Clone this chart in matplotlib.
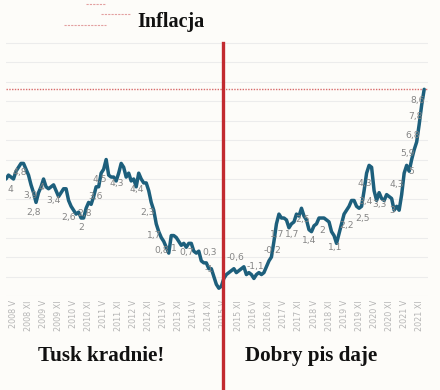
import numpy as np
import matplotlib
matplotlib.use("Agg")
import matplotlib.pyplot as plt
from matplotlib.lines import Line2D

# =====================================================
# Data: CPI y/y (%), monthly, Jan 2008 - Dec 2021
# =====================================================
cpi = [
    4.0, 4.2, 4.1, 4.0, 4.4, 4.6, 4.8, 4.8, 4.5, 4.2, 3.7, 3.3,   # 2008
    2.8, 3.3, 3.6, 4.0, 3.6, 3.5, 3.6, 3.7, 3.4, 3.1, 3.3, 3.5,   # 2009
    3.5, 2.9, 2.6, 2.4, 2.2, 2.3, 2.0, 2.0, 2.5, 2.8, 2.7, 3.1,   # 2010
    3.6, 3.6, 4.3, 4.5, 5.0, 4.2, 4.1, 4.1, 3.9, 4.3, 4.8, 4.6,   # 2011
    4.1, 4.3, 3.9, 4.0, 3.6, 4.3, 4.0, 3.8, 3.8, 3.4, 2.8, 2.4,   # 2012
    1.7, 1.3, 1.0, 0.8, 0.5, 0.2, 1.1, 1.1, 1.0, 0.8, 0.6, 0.7,   # 2013
    0.5, 0.7, 0.7, 0.3, 0.2, 0.3, -0.2, -0.3, -0.3, -0.6, -0.6, -1.0,  # 2014
    -1.4, -1.6, -1.5, -1.1, -0.9, -0.8, -0.7, -0.6, -0.8, -0.7, -0.6, -0.5,  # 2015
    -0.9, -0.8, -0.9, -1.1, -0.9, -0.8, -0.9, -0.8, -0.5, -0.2, 0.0, 0.8,  # 2016
    1.7, 2.2, 2.0, 2.0, 1.9, 1.5, 1.7, 1.8, 2.2, 2.1, 2.5, 2.1,   # 2017
    1.9, 1.4, 1.3, 1.6, 1.7, 2.0, 2.0, 2.0, 1.9, 1.8, 1.3, 1.1,   # 2018
    0.7, 1.2, 1.7, 2.2, 2.4, 2.6, 2.9, 2.9, 2.6, 2.5, 2.6, 3.4,   # 2019
    4.3, 4.7, 4.6, 3.4, 2.9, 3.3, 3.0, 2.9, 3.2, 3.1, 3.0, 2.4,   # 2020
    2.6, 2.4, 3.2, 4.3, 4.7, 4.4, 5.0, 5.5, 5.9, 6.8, 7.8, 8.6,   # 2021
]
months = np.arange(len(cpi))

years = list(range(2008, 2022))
tick_labels = [f"{y} {m}" for y in years for m in ("V", "XI")]
tick_months = [(y - 2008) * 12 + off for y in years for off in (3, 9)]

# labels written on the chart (text, month position, value position)
label_texts = ["4", "4,8", "3,9", "4", "2,8", "3,4", "2,6", "2,8", "2", "3,6",
               "4,5", "4,3", "4,4", "2,3", "1,7", "0,8", "1", "0,7", "0,3", "-1",
               "-0,6", "-1,1", "-0,2", "1,7", "1,7", "2,5", "1,4", "2", "1,1", "2,2",
               "2,5", "3,4", "3,3", "3", "4,3", "4,3", "5", "5,9", "6,8", "7,8", "8,6"]
label_x = [1.6, 5.6, 9.6, 14.0, 11.2, 19.2, 25.2, 31.2, 30.0, 35.6,
           37.6, 44.3, 52.3, 56.7, 59.1, 62.3, 67.1, 72.3, 81.5, 81.0,
           91.5, 99.5, 106.3, 108.4, 114.4, 118.3, 121.1, 126.2, 131.4, 136.2,
           142.2, 143.4, 149.0, 154.2, 143.4, 156.2, 161.8, 160.2, 162.2, 163.4, 164.2]
label_y = [3.44, 4.31, 3.18, 3.54, 2.26, 2.92, 2.05, 2.21, 1.49, 3.08,
           3.95, 3.79, 3.44, 2.26, 1.08, 0.31, 0.46, 0.21, 0.21, -0.62,
           -0.05, -0.51, 0.31, 1.18, 1.18, 1.90, 0.87, 1.38, 0.51, 1.64,
           1.95, 2.87, 2.67, 2.41, 3.79, 3.74, 4.41, 5.33, 6.21, 7.23, 8.05]

split_month = 86.5   # red line: "Tusk" / "PiS"

# =====================================================
# Plot
# =====================================================
bg = "#fdfcf9"
fig = plt.figure(figsize=(4.4, 3.9), dpi=100, facecolor=bg)
ax = fig.add_axes([0.0136, 0.241, 0.959, 0.70], facecolor=bg)

ax.set_xlim(0, 168.5)
ax.set_ylim(-2, 12)
for v in range(-2, 12):
    ax.axhline(v, color="#ececec", lw=0.8, zorder=0)

ax.plot(months, cpi, color="#1d5f7c", lw=2.5, solid_capstyle="round",
        solid_joinstyle="round", zorder=3)
ax.axhline(cpi[-1], color="#d86a6a", lw=1.0, ls=(0, (1, 1)), zorder=2)

for t, x, y in zip(label_texts, label_x, label_y):
    ax.text(x, y, t, color="#858585", fontsize=6.6, ha="center", va="center",
            zorder=4)

# vertical divider, runs down to the bottom of the figure
top = (11 - ax.get_ylim()[0]) / (ax.get_ylim()[1] - ax.get_ylim()[0])
ax.axvline(split_month, ymin=-0.4, ymax=top, color="#c22a30", lw=2.4,
           clip_on=False, zorder=5)

ax.set_xticks(tick_months)
ax.set_xticklabels(tick_labels, rotation=90, fontsize=5.8, color="#b5b5b5")
ax.tick_params(axis="x", length=0, pad=3)
ax.set_yticks([])
for s in ax.spines.values():
    s.set_visible(False)

# titles
fig.text(0.389, 0.943, "Inflacja", family="Liberation Serif", weight="bold",
         fontsize=14.5, ha="center", va="center", color="#111111")
fig.text(0.23, 0.087, "Tusk kradnie!", family="Liberation Serif", weight="bold",
         fontsize=15.2, ha="center", va="center", color="#111111")
fig.text(0.706, 0.087, "Dobry pis daje", family="Liberation Serif", weight="bold",
         fontsize=15.2, ha="center", va="center", color="#111111")

# faint legend-like marks next to the title
for x0, x1, y in [(0.195, 0.24, 0.99), (0.23, 0.295, 0.964), (0.145, 0.24, 0.936)]:
    fig.add_artist(Line2D([x0, x1], [y, y], color="#e3a0a0", lw=0.8,
                          ls=(0, (2, 1)), transform=fig.transFigure))

fig.savefig("out.png", dpi=100, facecolor=bg)
